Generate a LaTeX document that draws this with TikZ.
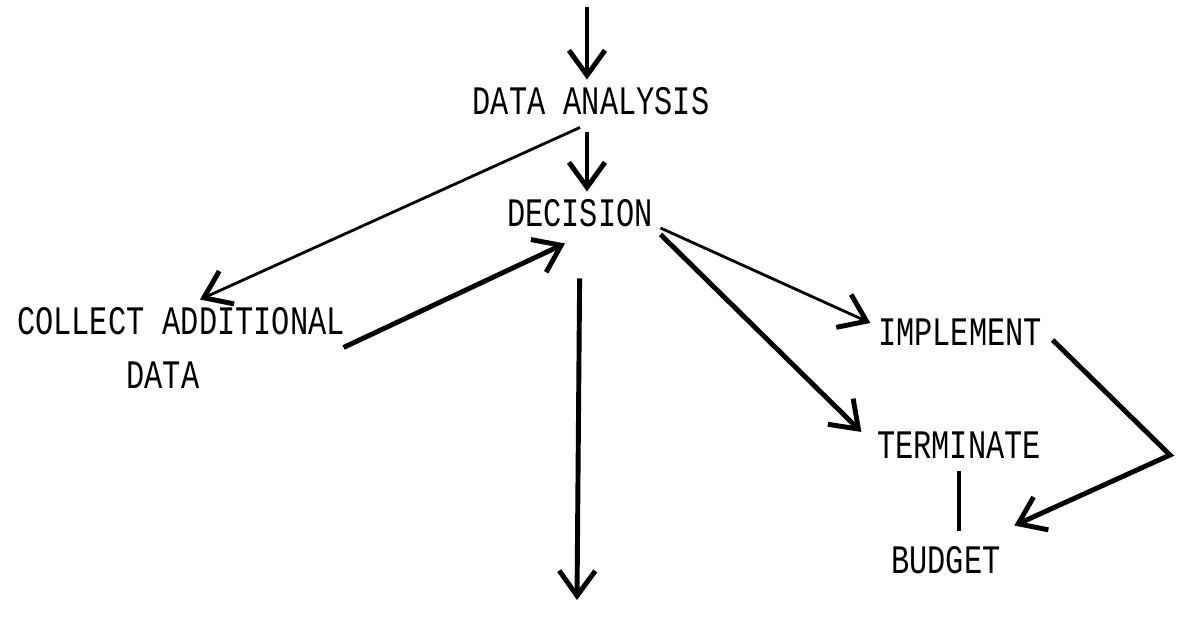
\documentclass[tikz,border=0pt]{standalone}
\usepackage{fontspec}
\newfontfamily\typefont[FakeStretch=0.75]{Liberation Mono}
\usetikzlibrary{arrows.meta}
\begin{document}
\begin{tikzpicture}[x=0.01cm,y=-0.01cm]
    \tikzstyle{word}=[font=\typefont\fontsize{11.5}{13}\selectfont, inner sep=2pt]
    \tikzstyle{flow}=[line width=1.4pt, -{Straight Barb[length=2.5mm,width=3.6mm,line width=1.4pt]}]
    \tikzstyle{thin}=[line width=0.8pt, -{Straight Barb[length=2.5mm,width=3.6mm,line width=1.4pt]}]
    \useasboundingbox (0,0) rectangle (1184,621);
    \node[word] (anl) at (591,101){DATA ANALYSIS};
    \node[word] (dec) at (580,213){DECISION};
    \node[word] (col) at (181,321){COLLECT ADDITIONAL};
    \node[word] (dat) at (163,375){DATA};
    \node[word] (imp) at (960,332){IMPLEMENT};
    \node[word] (ter) at (959,445){TERMINATE};
    \node[word] (bud) at (946,560){BUDGET};
    \coordinate (top) at (587,7);
    \coordinate (bot) at (577,600);
    \coordinate (turn) at (1170,455);
    %\draw main line down
    \draw[flow] (top) -- (top |- anl.north);
    \draw[flow, shorten <=1mm] (anl.south -| top) -- (dec.north -| top);
    \draw[flow, shorten <=4.4mm] (dec.south) -- (bot);
    % side loop
    \draw[thin] ([xshift=-1.1mm,yshift=-0.5mm]anl.south) -- ([xshift=1.9mm]col.north);
    \draw[flow] ([xshift=-0.9mm,yshift=-0.5mm]col.south east) -- ([xshift=-1.5mm,yshift=-0.9mm]dec.south);
    % right branch
    \draw[thin] ([yshift=-1.5mm]dec.east) -- ([yshift=0.9mm]imp.west);
    \draw[flow] (dec.south east) -- ([xshift=-0.8mm,yshift=-0.8mm]ter.north west);
    \draw[flow] ([xshift=0.3mm,yshift=-0.8mm]imp.east) -- (turn) -- ([xshift=0.6mm,yshift=1.3mm]bud.north east);
    \draw[line width=1.4pt, shorten <=0.5mm, shorten >=0.8mm] (ter.south) -- (ter.south |- bud.north);
  \end{tikzpicture}
\end{document}
